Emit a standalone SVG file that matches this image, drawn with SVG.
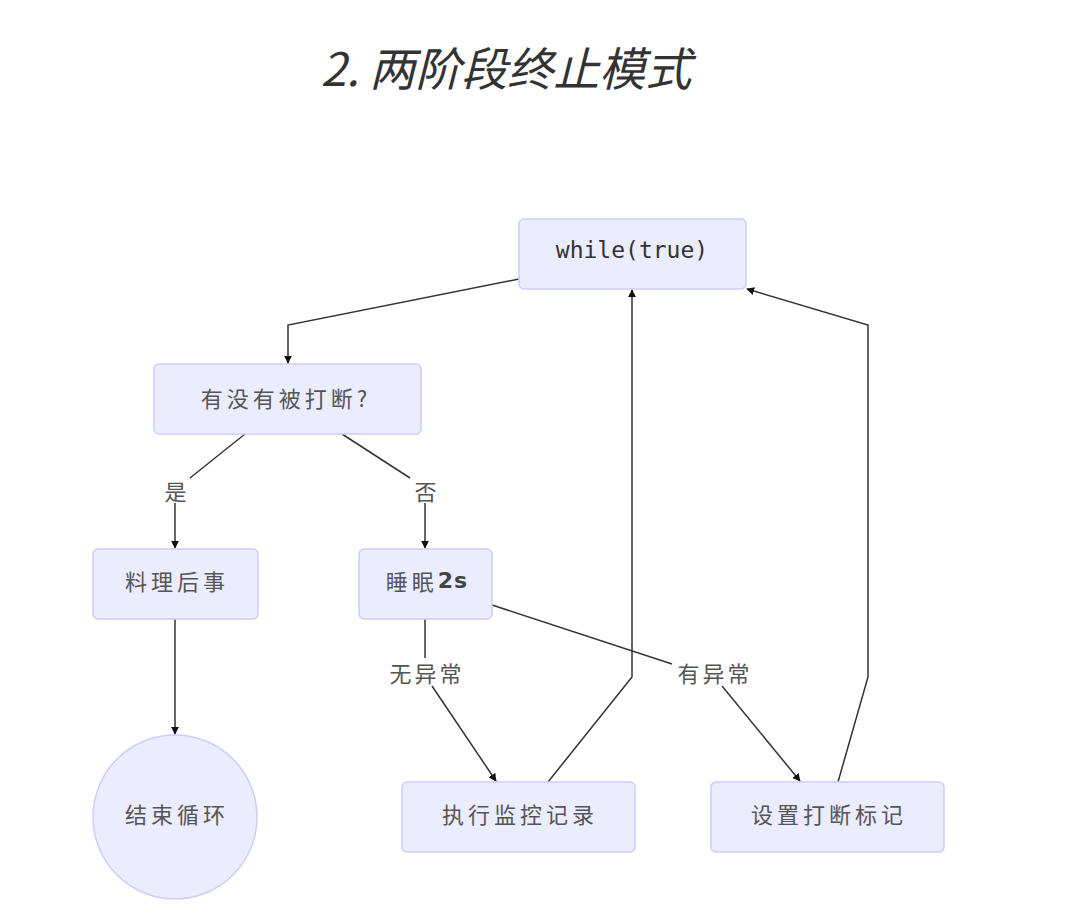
<svg xmlns="http://www.w3.org/2000/svg" width="1075" height="916" viewBox="0 0 1075 916">
<style>
.node{fill:#ECECFF;stroke:#CCCCFF;stroke-width:1.5}
.t{font-family:"Noto Sans CJK SC","Noto Sans",sans-serif;font-size:22px;fill:#555;text-anchor:middle;dominant-baseline:central;letter-spacing:4px}
.m{font-family:"DejaVu Sans Mono","Liberation Mono",monospace;font-size:23px;fill:#333;text-anchor:middle;dominant-baseline:central}
.e{fill:none;stroke:#333;stroke-width:1.5}
.lbl{font-family:"Noto Sans CJK SC","Noto Sans",sans-serif;font-size:22px;fill:#555;text-anchor:middle;dominant-baseline:central;letter-spacing:3px}
</style>
<defs>
<marker id="a" viewBox="0 0 10 10" refX="9" refY="5" markerWidth="8" markerHeight="8" markerUnits="userSpaceOnUse" orient="auto">
<path d="M0,0 L10,5 L0,10 z" fill="#111"/>
</marker>
</defs>
<rect width="1075" height="916" fill="#fff"/>
<text x="506" y="66" font-family="'Noto Sans CJK SC','Noto Sans',sans-serif" font-size="46" font-style="italic" fill="#333" text-anchor="middle" dominant-baseline="central">2. 两阶段终止模式</text>
<g id="connectors">
<path class="e" d="M519,279 L288,325 L288,363" marker-end="url(#a)"/>
<path class="e" d="M245,434 L190,478"/>
<path class="e" d="M175,503 L175,548" marker-end="url(#a)"/>
<path class="e" d="M342,434 L410,478"/>
<path class="e" d="M425,503 L425,548" marker-end="url(#a)"/>
<path class="e" d="M175,619 L175,734" marker-end="url(#a)"/>
<path class="e" d="M425,619 L425,658"/>
<path class="e" d="M432,686 L496,781" marker-end="url(#a)"/>
<path class="e" d="M492,605 L672,664"/>
<path class="e" d="M722,686 L800,781" marker-end="url(#a)"/>
<path class="e" d="M548,782 L632,677 L632,290" marker-end="url(#a)"/>
<path class="e" d="M838,782 L868,677 L868,325 L747,289" marker-end="url(#a)"/>
<text class="lbl" x="177" y="490">是</text>
<text class="lbl" x="427" y="490">否</text>
<text class="lbl" x="427" y="672">无异常</text>
<text class="lbl" x="715" y="672">有异常</text>
</g>
<g id="n1"><rect class="node" x="519" y="219" width="227" height="70" rx="5"/><text class="m" x="632" y="250">while(true)</text></g>
<g id="n2"><rect class="node" x="154" y="364" width="267" height="70" rx="5"/><text class="t" x="286" y="397">有没有被打断?</text></g>
<g id="n3"><rect class="node" x="93" y="549" width="165" height="70" rx="5"/><text class="t" x="177" y="580">料理后事</text></g>
<g id="n4"><rect class="node" x="359" y="549" width="133" height="70" rx="5"/><text class="t" x="427" y="580">睡眠<tspan font-family="'DejaVu Sans',sans-serif" font-weight="bold" fill="#444" letter-spacing="1">2s</tspan></text></g>
<g id="n5"><circle class="node" cx="175" cy="817" r="82"/><text class="t" x="177" y="813">结束循环</text></g>
<g id="n6"><rect class="node" x="402" y="782" width="233" height="70" rx="5"/><text class="t" x="520" y="813">执行监控记录</text></g>
<g id="n7"><rect class="node" x="711" y="782" width="233" height="70" rx="5"/><text class="t" x="829" y="813">设置打断标记</text></g>
</svg>
